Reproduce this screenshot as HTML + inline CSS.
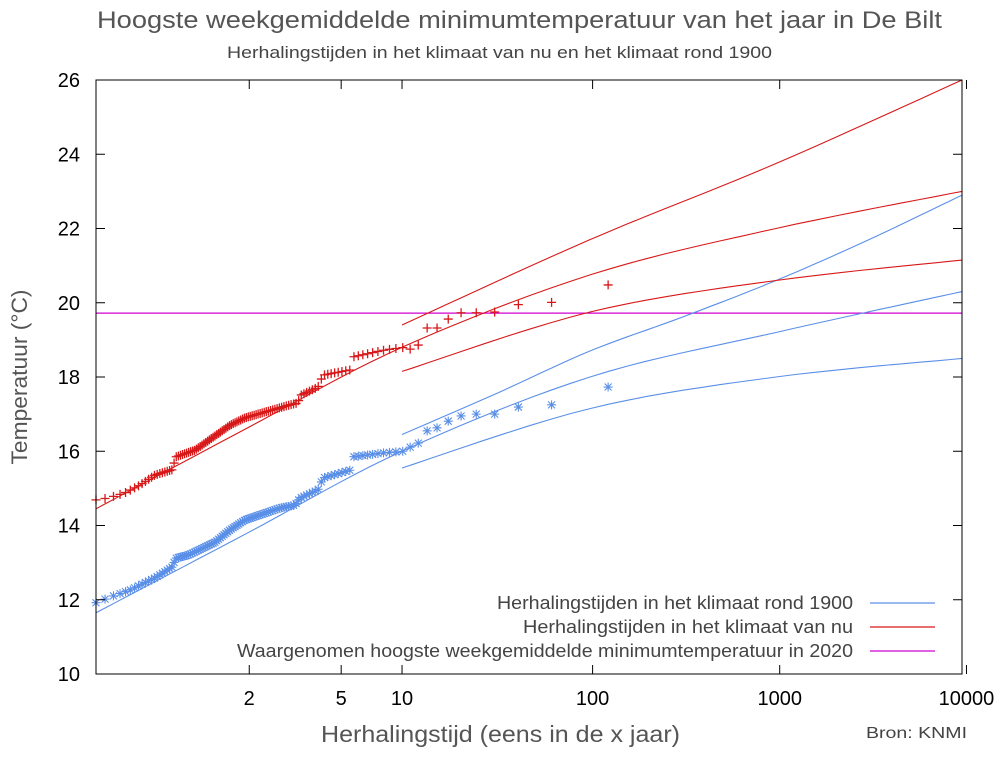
<!DOCTYPE html>
<html><head><meta charset="utf-8"><style>
body{margin:0;background:#fff;width:1005px;height:760px;overflow:hidden}
svg{display:block}
text{font-family:"Liberation Sans",sans-serif}
</style></head><body>
<svg id="s" width="1005" height="760" xmlns="http://www.w3.org/2000/svg">
<rect width="1005" height="760" fill="#fff"/>
<text x="97" y="28" font-size="24" fill="#555" textLength="845" lengthAdjust="spacingAndGlyphs">Hoogste weekgemiddelde minimumtemperatuur van het jaar in De Bilt</text>
<text x="227" y="58" font-size="17" fill="#444" textLength="545" lengthAdjust="spacingAndGlyphs">Herhalingstijden in het klimaat van nu en het klimaat rond 1900</text>
<text transform="translate(27,377) rotate(-90)" font-size="22" fill="#555" text-anchor="middle" textLength="175" lengthAdjust="spacingAndGlyphs">Temperatuur (°C)</text>
<text x="321" y="742" font-size="23" fill="#555" textLength="359" lengthAdjust="spacingAndGlyphs">Herhalingstijd (eens in de x jaar)</text>
<text x="866" y="738" font-size="16" fill="#444" textLength="101" lengthAdjust="spacingAndGlyphs">Bron: KNMI</text>
<g id="g"></g>
<text x="497" y="609" font-size="18" fill="#444" textLength="356" lengthAdjust="spacingAndGlyphs">Herhalingstijden in het klimaat rond 1900</text>
<text x="523" y="633" font-size="18" fill="#444" textLength="330" lengthAdjust="spacingAndGlyphs">Herhalingstijden in het klimaat van nu</text>
<text x="237" y="657" font-size="18" fill="#444" textLength="616" lengthAdjust="spacingAndGlyphs">Waargenomen hoogste weekgemiddelde minimumtemperatuur in 2020</text>
<line x1="870" y1="603" x2="935" y2="603" stroke="#5a8fe8" stroke-width="1.2"/>
<line x1="870" y1="627" x2="935" y2="627" stroke="#d81818" stroke-width="1.2"/>
<line x1="870" y1="651" x2="935" y2="651" stroke="#d000d0" stroke-width="1.2"/>
</svg>
<script>
var L=96,R=962,T=80,B=674;
function Y(t){return B-(t-10)*37.125}
function U(T){return -Math.log(-Math.log(1-1/T))}
function X(T){return 402+(U(T)-2.25)*81.1}
var h='';
h+='<line x1="96" y1="'+Y(19.72)+'" x2="962" y2="'+Y(19.72)+'" stroke="#d000d0" stroke-width="1.3"/>';
function interp(p,x){for(var i=0;i<p.length-1;i++){if(x<=p[i+1][0]){var a=p[i],b=p[i+1];return a[1]+(b[1]-a[1])*(x-a[0])/(b[0]-a[0]);}}return p[p.length-1][1];}
function cr(p,col){
 var d='';var n=p.length;
 for(var i=0;i<n-1;i++){var p0=p[Math.max(i-1,0)],p1=p[i],p2=p[i+1],p3=p[Math.min(i+2,n-1)];
  for(var k=0;k<=10;k++){var t=k/10,t2=t*t,t3=t2*t;
   var f=function(a,b,c,e){return 0.5*((2*b)+(-a+c)*t+(2*a-5*b+4*c-e)*t2+(-a+3*b-3*c+e)*t3)};
   var xx=f(p0[0],p1[0],p2[0],p3[0]),yy=f(Y(p0[1]),Y(p1[1]),Y(p2[1]),Y(p3[1]));
   d+=(d?'L':'M')+xx.toFixed(1)+','+yy.toFixed(1);}}
 h+='<path d="'+d+'" fill="none" stroke="'+col+'" stroke-width="1.1"/>';}
var BL='#5a8fe8',RD='#d81818';
cr([[96,11.65],[249,13.82],[402,16.0],[590,18.0],[776,19.2],[962,20.3]],BL);
cr([[402,16.45],[496,17.55],[590,18.7],[683,19.62],[776,20.6],[869,21.7],[962,22.9]],BL);
cr([[402,15.55],[590,17.15],[776,18.0],[962,18.5]],BL);
cr([[96,14.45],[249,16.65],[402,18.8],[590,20.75],[776,22.0],[962,23.0]],RD);
cr([[402,19.4],[590,21.7],[776,23.75],[962,26.0]],RD);
cr([[402,18.15],[590,19.75],[776,20.6],[962,21.15]],RD);
var rk=[[96,14.69],[108,14.74],[125,14.88],[140,15.09],[155,15.36],[172,15.5],[176,15.85],[195,16.03],[230,16.7],[245,16.9],[290,17.25],[298,17.3],[300,17.5],[318,17.73],[323,18.05],[350,18.19],[353,18.54],[385,18.73],[405,18.8]];
var bk=[[96,11.92],[110,12.07],[130,12.26],[155,12.59],[172,12.88],[176,13.12],[188,13.2],[215,13.55],[230,13.88],[245,14.15],[280,14.47],[295,14.55],[300,14.74],[318,14.96],[323,15.28],[350,15.49],[353,15.85],[385,15.96],[405,16.0]];
var rt=[20.48,20.01,19.95,19.75,19.73,19.73,19.56,19.32,19.32,18.86,18.75];
var bt=[17.73,17.25,17.19,17.0,17.0,16.95,16.81,16.63,16.55,16.22,16.11,16.0];
for(var i=1;i<=120;i++){var x=Math.max(X(121/i),96);
 var r=i<=rt.length?rt[i-1]:interp(rk,x), b=i<=bt.length?bt[i-1]:interp(bk,x);
 var yr=Y(r),yb=Y(b);
 h+='<path d="M'+(x-4.5)+','+yr+'h9M'+x+','+(yr-4.5)+'v9" stroke="'+RD+'" stroke-width="1.3"/>';
 h+='<path d="M'+(x-4.5)+','+yb+'h9M'+x+','+(yb-4.5)+'v9M'+(x-3.5)+','+(yb-3.5)+'l7,7M'+(x-3.5)+','+(yb+3.5)+'l7,-7" stroke="'+BL+'" stroke-width="1.1"/>';}
h+='<rect x="96" y="80" width="866" height="594" fill="none" stroke="#000" stroke-width="1"/>';
for(var t=10;t<=26;t+=2){var y=Y(t);h+='<line x1="96" y1="'+y+'" x2="105" y2="'+y+'" stroke="#000"/><line x1="953" y1="'+y+'" x2="962" y2="'+y+'" stroke="#000"/>';
 h+='<text x="80" y="'+(y+7)+'" font-size="20" text-anchor="end" fill="#000">'+t+'</text>';}
var xt=[[2,'2'],[5,'5'],[10,'10'],[100,'100'],[1000,'1000'],[10000,'10000']];
xt.forEach(function(a){var x=X(a[0]);h+='<line x1="'+x+'" y1="674" x2="'+x+'" y2="665" stroke="#000"/><line x1="'+x+'" y1="80" x2="'+x+'" y2="89" stroke="#000"/>';
 h+='<text x="'+x+'" y="705" font-size="20" text-anchor="middle" fill="#000">'+a[1]+'</text>';});
document.getElementById('g').innerHTML=h;
</script>
</body></html>
